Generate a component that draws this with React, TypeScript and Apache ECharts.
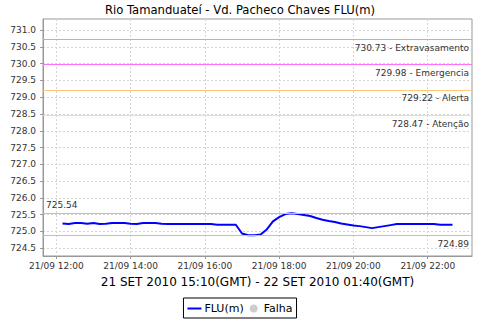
import React, { useEffect, useRef } from "react";
import * as echarts from "echarts";

const titleText = "Rio Tamanduateí - Vd. Pacheco Chaves FLU(m)";
const periodText = "21 SET 2010 15:10(GMT) - 22 SET 2010 01:40(GMT)";
const dayLabel = "21/09";

const times = [
  "12:10", "12:20", "12:30", "12:40", "12:50", "13:00", "13:10", "13:20", "13:30", "13:40",
  "13:50", "14:00", "14:10", "14:20", "14:30", "14:40", "14:50", "15:00", "15:10", "15:20",
  "15:30", "15:40", "15:50", "16:00", "16:10", "16:20", "16:30", "16:40", "16:50", "17:00",
  "17:10", "17:20", "17:30", "17:40", "17:50", "18:00", "18:10", "18:20", "18:30", "18:40",
  "18:50", "19:00", "19:10", "19:20", "19:30", "19:40", "19:50", "20:00", "20:10", "20:20",
  "20:30", "20:40", "20:50", "21:00", "21:10", "21:20", "21:30", "21:40", "21:50", "22:00",
  "22:10", "22:20", "22:30", "22:40",
];

const levels = [
  725.24, 725.22, 725.25, 725.25, 725.23, 725.25, 725.22, 725.23, 725.25, 725.25,
  725.25, 725.23, 725.22, 725.25, 725.25, 725.25, 725.23, 725.22, 725.22, 725.22,
  725.22, 725.22, 725.22, 725.22, 725.22, 725.2, 725.2, 725.2, 725.2, 724.94,
  724.89, 724.89, 724.91, 725.06, 725.3, 725.43, 725.52, 725.54, 725.52, 725.49,
  725.46, 725.4, 725.35, 725.31, 725.28, 725.24, 725.21, 725.18, 725.16, 725.13,
  725.1, 725.13, 725.16, 725.19, 725.22, 725.22, 725.22, 725.22, 725.22, 725.22,
  725.22, 725.2, 725.2, 725.2,
];

const thresholdValues = [730.73, 729.98, 729.22, 728.47];
const thresholdNames = ["Extravasamento", "Emergencia", "Alerta", "Atenção"];

const xTickHours = [12, 14, 16, 18, 20, 22];
const yTickValues = [
  724.5, 725.0, 725.5, 726.0, 726.5, 727.0, 727.5, 728.0, 728.5, 729.0, 729.5, 730.0, 730.5, 731.0,
];

const seriesName = "FLU(m)";
const failName = "Falha";

const thresholdColors = ["#F09C9C", "#FF70FF", "#FFC878", "#FFDC9A"];

function toHours(t: string): number {
  const [h, m] = t.split(":").map(Number);
  return h + m / 60;
}

export default function App() {
  const ref = useRef<HTMLDivElement>(null);
  useEffect(() => {
    if (!ref.current) return;
    document.body.style.margin = "0";
    const chart = echarts.init(ref.current, null, { renderer: "svg" });
    const font = "DejaVu Sans";
    const xs = times.map(toHours);
    const data = xs.map((x, i) => [x, levels[i]]);
    const span = xs[xs.length - 1] - xs[0];
    const margin = span * 0.05;
    const pad = (n: number) => (n < 10 ? "0" + n : "" + n);

    const markLabel = (position: string, formatter: any) => ({
      show: true,
      position,
      formatter,
      color: "#333",
      fontFamily: font,
      fontSize: 9,
      distance: [3, 4],
    });

    const markData: any[] = thresholdValues.map((v, i) => ({
      yAxis: v,
      lineStyle: { color: thresholdColors[i], type: "solid", width: 1 },
      label: markLabel("insideEndBottom", v.toFixed(2) + " - " + thresholdNames[i]),
    }));
    markData.push({
      type: "max",
      valueDim: "y",
      lineStyle: { color: "#C0C0C0", type: "solid", width: 1 },
      label: markLabel("insideStartTop", (p: any) => Number(p.value).toFixed(2)),
    });
    markData.push({
      type: "min",
      valueDim: "y",
      lineStyle: { color: "#C0C0C0", type: "solid", width: 1 },
      label: markLabel("insideEndBottom", (p: any) => Number(p.value).toFixed(2)),
    });

    chart.setOption({
      animation: false,
      backgroundColor: "#fff",
      title: {
        text: titleText,
        left: "center",
        top: -1,
        textStyle: { fontFamily: font, fontSize: 11.6, fontWeight: "normal", color: "#000" },
      },
      grid: {
        left: 43,
        right: 8,
        top: 19,
        bottom: 64,
        show: true,
        borderColor: "#999",
        borderWidth: 1,
        backgroundColor: "#fff",
      },
      legend: {
        bottom: 2,
        left: "center",
        data: [
          { name: seriesName, icon: "path://M0,0L14,0L14,2L0,2Z", itemStyle: { color: "#0000FF" } },
          { name: failName, icon: "circle", itemStyle: { color: "#C0C0C0" } },
        ],
        itemWidth: 14,
        itemHeight: 8,
        itemGap: 6,
        symbolKeepAspect: true,
        padding: [5, 4, 4, 4],
        borderColor: "#000",
        borderWidth: 1,
        borderRadius: 0,
        textStyle: { fontFamily: font, fontSize: 11, color: "#000", padding: [0, 0, 0, -2] },
      },
      xAxis: {
        type: "value",
        min: xs[0] - margin,
        max: xs[xs.length - 1] + margin,
        name: periodText,
        nameLocation: "middle",
        nameGap: 20,
        nameTextStyle: { fontFamily: font, fontSize: 12, color: "#000" },
        axisLine: { show: true, lineStyle: { color: "#999" } },
        axisTick: { show: true, length: 3, customValues: xTickHours, lineStyle: { color: "#999" } },
        axisLabel: {
          customValues: xTickHours,
          formatter: (v: number) => dayLabel + " " + pad(Math.round(v)) + ":00",
          fontFamily: font,
          fontSize: 9,
          color: "#333",
          margin: 5,
        },
        splitLine: { show: true, lineStyle: { color: "#D4D4D4", type: [2, 2] } },
      },
      yAxis: {
        type: "value",
        min: 724.27,
        max: 731.33,
        axisLine: { show: true, lineStyle: { color: "#999" } },
        axisTick: { show: true, length: 3, customValues: yTickValues, lineStyle: { color: "#999" } },
        axisLabel: {
          customValues: yTickValues,
          formatter: (v: number) => v.toFixed(1),
          fontFamily: font,
          fontSize: 9,
          color: "#333",
          margin: 7,
        },
        splitLine: { show: true, lineStyle: { color: "#D4D4D4", type: [2, 2] } },
      },
      series: [
        {
          name: seriesName,
          type: "line",
          data,
          symbol: "none",
          lineStyle: { color: "#0000FF", width: 2 },
          itemStyle: { color: "#0000FF" },
          markLine: { silent: true, symbol: "none", data: markData },
        },
        {
          name: failName,
          type: "scatter",
          data: [],
          symbol: "circle",
          itemStyle: { color: "#C0C0C0" },
        },
      ],
    });
    return () => chart.dispose();
  }, []);
  return <div ref={ref} style={{ width: 480, height: 320 }} />;
}
